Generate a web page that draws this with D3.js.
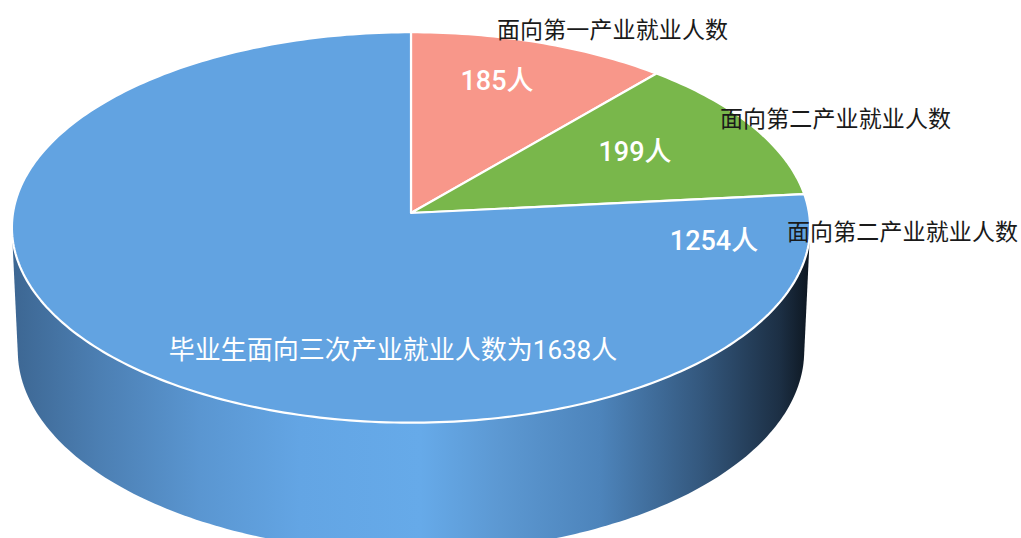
<!DOCTYPE html>
<html>
<head>
<meta charset="utf-8">
<script src="https://cdn.jsdelivr.net/npm/d3@7"></script>
<style>
  html, body { margin: 0; padding: 0; background: #fff; }
  svg { display: block; }
</style>
</head>
<body>
<svg id="chart"></svg>
<script>
// Data
const categories = ["面向第一产业就业人数", "面向第二产业就业人数", "面向第二产业就业人数"];
const values = [185, 199, 1254];
const valueLabels = ["185人", "199人", "1254人"];
const totalLabel = "毕业生面向三次产业就业人数为1638人";
const colors = ["#f8978a", "#79b74b", "#62a3e1"];

// Chart Dimensions
const width = 1021;
const height = 538;

const svg = d3.select("#chart").attr("width", width).attr("height", height);

// Perspective projection of a tilted disk (radius 1)
const cx = 411, cy = 213;
const D = 11.79;
const tilt = (29.2 * Math.PI) / 180;
const f = 398 * D;
const thickness = 0.36;

function project(X, Y, Z) {
  const depth = D + Y * Math.cos(tilt) - Z * Math.sin(tilt);
  return [
    cx + (f * X) / depth,
    cy - (f * (Y * Math.sin(tilt) + Z * Math.cos(tilt))) / depth
  ];
}
// angle measured clockwise from the back (top of the picture)
const rim = (a, r = 1, z = 0) => project(r * Math.sin(a), r * Math.cos(a), z);

// Pie layout
const pie = d3.pie().sort(null).value((d) => d);
const arcs = pie(values);

// Side gradient
const defs = svg.append("defs");
const grad = defs
  .append("linearGradient")
  .attr("id", "side")
  .attr("gradientUnits", "userSpaceOnUse")
  .attr("x1", 14)
  .attr("x2", 810)
  .attr("y1", 0)
  .attr("y2", 0);
[
  [14, "#3d6793"],
  [100, "#4c7fb3"],
  [200, "#5a96d1"],
  [300, "#63a5e4"],
  [420, "#66aae9"],
  [500, "#5c98d2"],
  [600, "#4d84bb"],
  [700, "#34587e"],
  [780, "#1c2f44"],
  [810, "#0d1620"]
].forEach(([x, c]) => {
  grad
    .append("stop")
    .attr("offset", ((x - 14) / (810 - 14)) * 100 + "%")
    .attr("stop-color", c);
});

// Side: hull of top and bottom rims
const rimPts = [];
for (let i = 0; i < 360; i++) {
  const a = (i * Math.PI) / 180;
  rimPts.push(rim(a, 1, 0));
  rimPts.push(rim(a, 1, -thickness));
}
const hull = d3.polygonHull(rimPts);
svg
  .append("path")
  .attr("d", "M" + hull.join("L") + "Z")
  .attr("fill", "url(#side)");

// Top slices
function slicePath(d) {
  const pts = [project(0, 0, 0)];
  const n = Math.max(2, Math.ceil(((d.endAngle - d.startAngle) * 180) / Math.PI));
  for (let i = 0; i <= n; i++) {
    pts.push(rim(d.startAngle + ((d.endAngle - d.startAngle) * i) / n));
  }
  return "M" + pts.join("L") + "Z";
}

svg
  .selectAll(".slice")
  .data(arcs)
  .enter()
  .append("path")
  .attr("class", "slice")
  .attr("d", slicePath)
  .attr("fill", (d, i) => colors[i])
  .attr("stroke", "#fff")
  .attr("stroke-width", 2.2)
  .attr("stroke-linejoin", "round");

// Value labels inside slices
const valuePos = [
  [497, 81],
  [635, 152],
  [714, 241]
];
const labelFont = "Roboto, 'Liberation Sans', 'Noto Sans CJK SC', sans-serif";
svg
  .selectAll(".val")
  .data(valueLabels)
  .enter()
  .append("text")
  .attr("class", "val")
  .attr("x", (d, i) => valuePos[i][0])
  .attr("y", (d, i) => valuePos[i][1])
  .attr("text-anchor", "middle")
  .attr("dominant-baseline", "central")
  .attr("fill", "#fff")
  .style("font-family", labelFont)
  .style("font-weight", 500)
  .style("font-size", "27px")
  .text((d) => d);

svg
  .append("text")
  .attr("x", 393)
  .attr("y", 350)
  .attr("text-anchor", "middle")
  .attr("dominant-baseline", "central")
  .attr("fill", "#fff")
  .style("font-family", labelFont)
  .style("font-size", "26px")
  .text(totalLabel);

// Category labels outside
const catPos = [
  [497, 28],
  [720, 117],
  [787, 230]
];
svg
  .selectAll(".cat")
  .data(categories)
  .enter()
  .append("text")
  .attr("class", "cat")
  .attr("x", (d, i) => catPos[i][0])
  .attr("y", (d, i) => catPos[i][1])
  .attr("dominant-baseline", "central")
  .attr("fill", "#1a1a1a")
  .attr("textLength", 231)
  .style("font-family", "'Noto Sans CJK SC', sans-serif")
  .style("font-size", "23px")
  .text((d) => d);
</script>
</body>
</html>
